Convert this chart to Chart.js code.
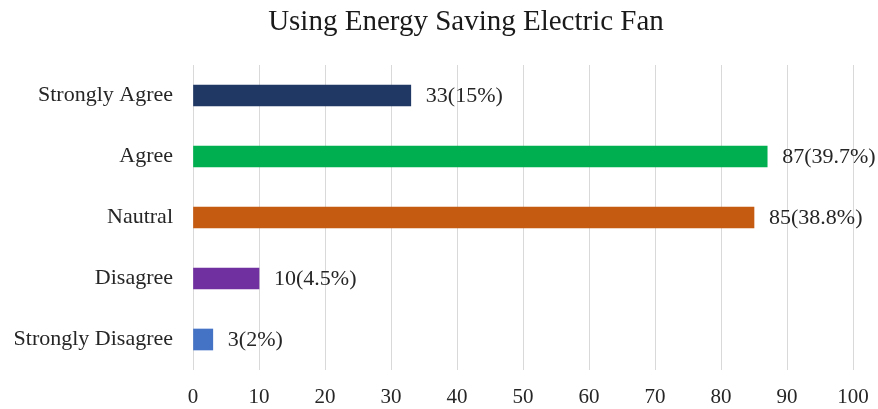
<!DOCTYPE html>
<html>
<head>
<meta charset="utf-8">
<style>
  html, body { margin: 0; padding: 0; background: #fff; }
  #wrap { width: 878px; height: 409px; position: relative; }
</style>
<script src="https://cdn.jsdelivr.net/npm/chart.js@4/dist/chart.umd.min.js"></script>
</head>
<body>
<div id="wrap"><canvas id="fanChart" width="878" height="409"></canvas></div>
<script>
const categories = ['Strongly Agree', 'Agree', 'Nautral', 'Disagree', 'Strongly Disagree'];
const counts = [33, 87, 85, 10, 3];
const shares = ['15%', '39.7%', '38.8%', '4.5%', '2%'];
const barColors = ['#203864', '#00b050', '#c55a11', '#7030a0', '#4472c4'];

const FONT = '"Liberation Serif", "Times New Roman", serif';

// title and "n(p%)" labels next to each bar
const annotate = {
    id: 'annotate',
    afterDatasetsDraw(chart) {
        const ctx = chart.ctx;
        ctx.save();
        ctx.fillStyle = '#1a1a1a';
        ctx.font = '29px ' + FONT;
        ctx.textAlign = 'center';
        ctx.textBaseline = 'middle';
        ctx.fillText('Using Energy Saving Electric Fan', 466, 22);

        ctx.font = '22px ' + FONT;
        ctx.textAlign = 'left';
        ctx.fillStyle = '#262626';
        chart.getDatasetMeta(0).data.forEach((bar, i) => {
            ctx.fillText(counts[i] + '(' + shares[i] + ')', bar.x + 15, bar.y + 1);
        });
        ctx.restore();
    },
};

new Chart(document.getElementById('fanChart'), {
    type: 'bar',
    data: {
        labels: categories,
        datasets: [{
            data: counts,
            backgroundColor: barColors,
            barThickness: 21,
            borderWidth: 0,
        }],
    },
    options: {
        indexAxis: 'y',
        responsive: false,
        animation: false,
        layout: { padding: { top: 65, right: 25, bottom: 0, left: 0 } },
        plugins: {
            legend: { display: false },
            tooltip: { enabled: false },
        },
        scales: {
            x: {
                min: 0,
                max: 100,
                ticks: { stepSize: 10, padding: 15, color: '#262626', font: { family: FONT, size: 21 } },
                grid: { color: '#d9d9d9', drawTicks: false },
                border: { display: false },
                afterFit: (scale) => {
                    scale.height = 39;
                    scale.paddingLeft = 0;
                    scale.paddingRight = 0;
                },
            },
            y: {
                ticks: { padding: 20, color: '#262626', font: { family: FONT, size: 22 } },
                grid: { display: false, drawTicks: false },
                border: { display: false },
                afterFit: (scale) => { scale.width = 193; },
            },
        },
    },
    plugins: [annotate],
});
</script>
</body>
</html>
